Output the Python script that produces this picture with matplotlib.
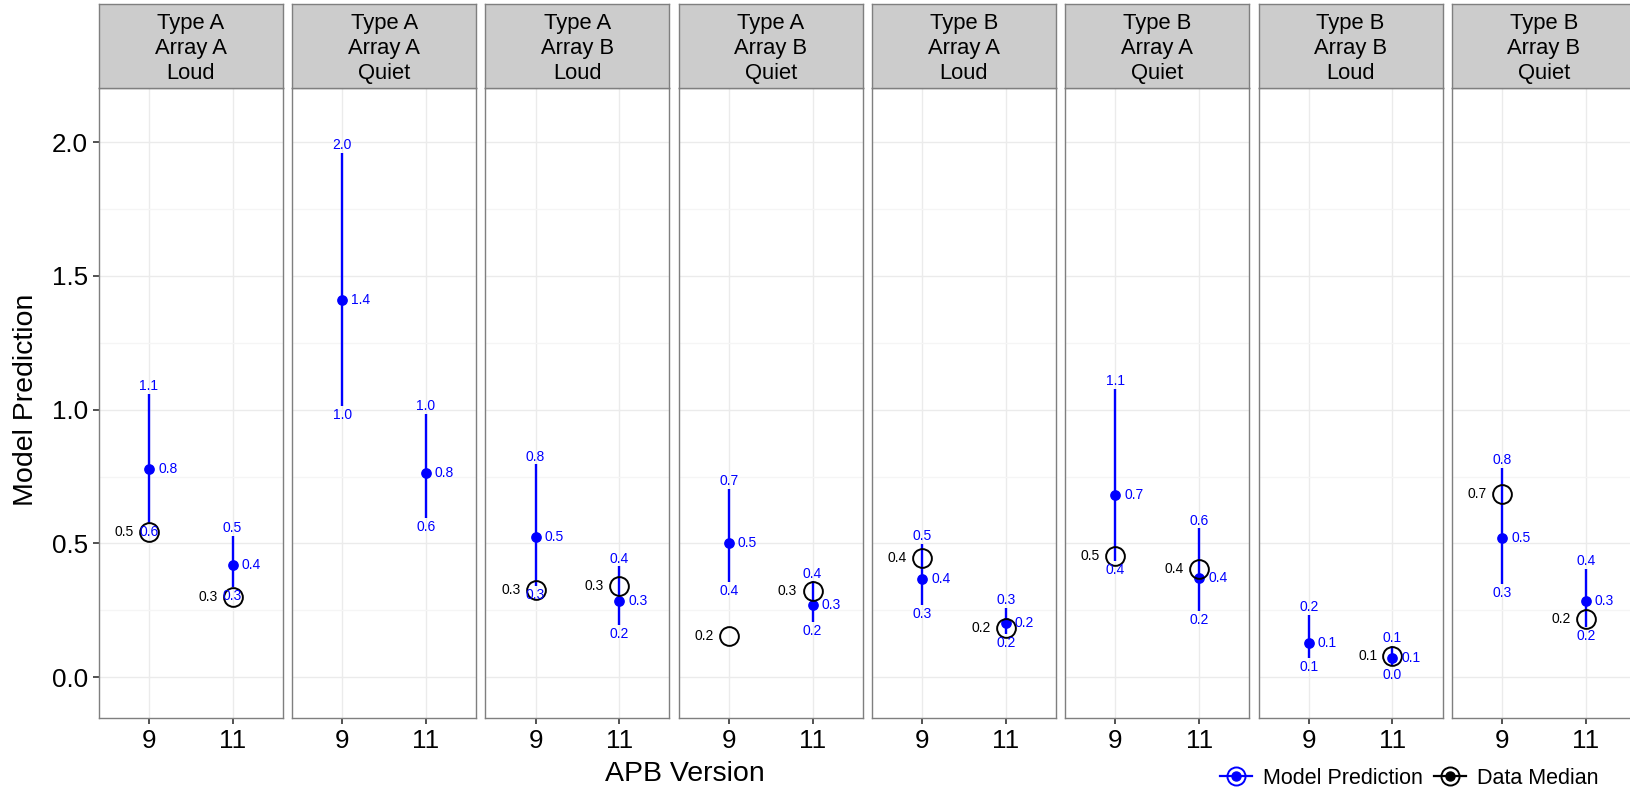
import numpy as np
import matplotlib
matplotlib.use("Agg")
import matplotlib.pyplot as plt
from matplotlib.lines import Line2D

plt.rcParams['font.family'] = ['Liberation Sans', 'DejaVu Sans']

# facet labels
types = ["Type A", "Type A", "Type A", "Type A", "Type B", "Type B", "Type B", "Type B"]
arrays = ["Array A", "Array A", "Array B", "Array B", "Array A", "Array A", "Array B", "Array B"]
conditions = ["Loud", "Quiet", "Loud", "Quiet", "Loud", "Quiet", "Loud", "Quiet"]
versions = ["9", "11"]

# model prediction (mean, lower, upper) per panel, per version
pred_mean = [[0.777, 0.421], [1.409, 0.762], [0.523, 0.285], [0.501, 0.269],
             [0.368, 0.201], [0.680, 0.371], [0.126, 0.071], [0.519, 0.284]]
pred_lower = [[0.578, 0.338], [1.015, 0.595], [0.342, 0.194], [0.356, 0.207],
              [0.271, 0.160], [0.436, 0.247], [0.071, 0.043], [0.347, 0.188]]
pred_upper = [[1.060, 0.529], [1.960, 0.985], [0.796, 0.414], [0.705, 0.358],
              [0.498, 0.260], [1.077, 0.556], [0.232, 0.118], [0.783, 0.405]]
# data median (nan = no data)
data_median = [[0.544, 0.300], [np.nan, np.nan], [0.325, 0.341], [0.155, 0.321],
               [0.445, 0.182], [0.452, 0.403], [np.nan, 0.079], [0.683, 0.217]]

W, H = 1631, 791
fig = plt.figure(figsize=(W / 100, H / 100), dpi=100)

left0, pitch, pw = 98.8, 193.3, 184.0
ptop, pbot, stop = 88.0, 718.0, 4.0
border = '#7F7F7F'
blue = '#0000FF'
lab_fs = 10

for i in range(8):
    x0 = left0 + i * pitch
    ax = fig.add_axes([x0 / W, 1 - pbot / H, pw / W, (pbot - ptop) / H])
    sax = fig.add_axes([x0 / W, 1 - ptop / H, pw / W, (ptop - stop) / H])

    # strip
    sax.set_facecolor('#CCCCCC')
    sax.set_xticks([])
    sax.set_yticks([])
    for s in sax.spines.values():
        s.set_color(border)
        s.set_linewidth(1.0)
    sax.text(0.5, 0.47, f"{types[i]}\n{arrays[i]}\n{conditions[i]}", ha='center', va='center',
             fontsize=15.8, linespacing=1.22, transform=sax.transAxes)

    # panel
    ax.set_xlim(0.4, 2.6)
    ax.set_ylim(-0.153, 2.203)
    ax.set_yticks([0.0, 0.5, 1.0, 1.5, 2.0])
    ax.set_yticks([0.25, 0.75, 1.25, 1.75], minor=True)
    ax.set_xticks([1, 2])
    ax.set_xticklabels(versions)
    ax.grid(True, which='major', color='#EBEBEB', lw=1.0)
    ax.grid(True, which='minor', axis='y', color='#F5F5F5', lw=1.0)
    ax.set_axisbelow(True)
    ax.tick_params(axis='both', which='major', labelsize=18.7, length=4, width=1.2,
                   color='#333333', pad=4)
    ax.tick_params(axis='y', which='minor', length=0)
    if i > 0:
        ax.tick_params(axis='y', left=False, labelleft=False)
    for s in ax.spines.values():
        s.set_color(border)
        s.set_linewidth(1.0)

    xs = [1, 2]
    ax.vlines(xs, pred_lower[i], pred_upper[i], color=blue, lw=1.7, zorder=3)
    ax.plot(xs, pred_mean[i], 'o', color=blue, ms=6.7, zorder=4, ls='none')
    ax.plot(xs, data_median[i], 'o', mfc='none', mec='black', mew=1.4, ms=13.5, zorder=5, ls='none')

    for j, x in enumerate(xs):
        ax.annotate(f"{pred_mean[i][j]:.1f}", (x, pred_mean[i][j]), xytext=(6.5, 0),
                    textcoords='offset points', ha='left', va='center', color=blue, fontsize=lab_fs, zorder=6)
        ax.annotate(f"{pred_upper[i][j]:.1f}", (x, pred_upper[i][j]), xytext=(0, 0.5),
                    textcoords='offset points', ha='center', va='bottom', color=blue, fontsize=lab_fs, zorder=6)
        ax.annotate(f"{pred_lower[i][j]:.1f}", (x, pred_lower[i][j]), xytext=(0, -1.5),
                    textcoords='offset points', ha='center', va='top', color=blue, fontsize=lab_fs, zorder=6)
        m = data_median[i][j]
        if not np.isnan(m):
            ax.annotate(f"{m:.1f}", (x, m), xytext=(-11, 0), textcoords='offset points',
                        ha='right', va='center', color='black', fontsize=lab_fs, zorder=6)

fig.text(26 / W, 1 - 400 / H, "Model Prediction", rotation=90, ha='center', va='center', fontsize=20.5)
fig.text(685 / W, 1 - 774 / H, "APB Version", ha='center', va='center', fontsize=20.5)

h_model = (Line2D([], [], color=blue, lw=1.6, marker='o', mfc='none', mec=blue, mew=1.4, ms=13),
           Line2D([], [], ls='none', marker='o', color=blue, ms=6.5))
h_data = (Line2D([], [], color='black', lw=1.6, marker='o', mfc='none', mec='black', mew=1.4, ms=13),
          Line2D([], [], ls='none', marker='o', color='black', ms=6.5))
fig.legend([h_model, h_data], ["Model Prediction", "Data Median"], ncol=2, frameon=False,
           loc='center left', bbox_to_anchor=(1220 / W, 1 - 778 / H), borderpad=0, borderaxespad=0,
           fontsize=15.5, handlelength=1.5, handletextpad=0.5, columnspacing=0.5)

fig.savefig("out.png", dpi=100)
